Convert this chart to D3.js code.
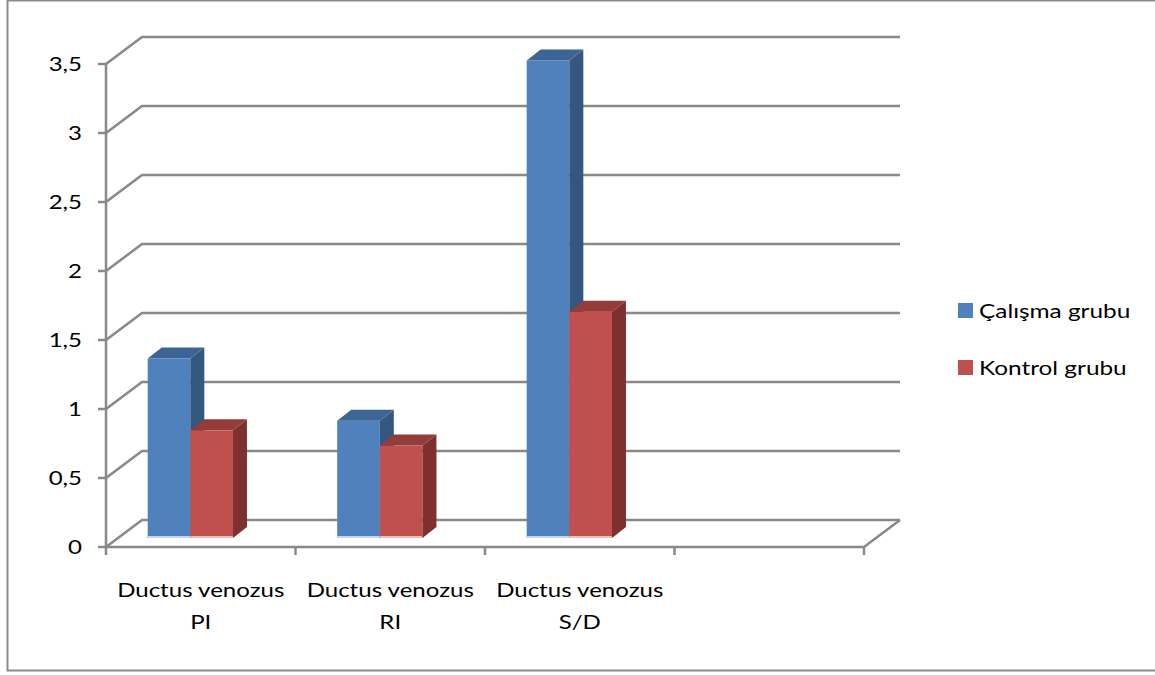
<!DOCTYPE html>
<html>
<head>
<meta charset="utf-8">
<script src="https://cdn.jsdelivr.net/npm/d3@7"></script>
<style>
  html, body { margin: 0; padding: 0; background: #fff; }
  svg { display: block; }
  text { font-family: Lato, "Open Sans", sans-serif; fill: #000; }
</style>
</head>
<body>
<svg id="chart" width="1155" height="675"></svg>
<script>
// Data
const categories = ["Ductus venozus\nPI", "Ductus venozus\nRI", "Ductus venozus\nS/D", ""];
const seriesNames = ["Çalışma grubu", "Kontrol grubu"];
const calismaValues = [1.30, 0.85, 3.46];
const kontrolValues = [0.78, 0.67, 1.64];
const yTicks = [0, 0.5, 1, 1.5, 2, 2.5, 3, 3.5];

const seriesValues = [calismaValues, kontrolValues];
const colors = [
  { front: "#4F81BD", side: "#34577F", top: "#3C6596", base: "#C6D6EB" },
  { front: "#C0504D", side: "#7E302E", top: "#943C3A", base: "#E9BFBE" }
];

const svg = d3.select("#chart");

// Front plane of the 3D box, and the oblique offset toward the back wall
const y = d3.scaleLinear().domain([0, 3.5]).range([547, 64]);
const x = d3.scaleBand().domain(d3.range(categories.length)).range([106, 864]).padding(0);
const DEPTH = { dx: 36, dy: -27 };     // floor / wall depth
const BAR_SHIFT = { dx: 0, dy: -9 };    // bars sit a little behind the front edge
const BAR_DEPTH = { dx: 14, dy: -11 };  // thickness of each bar
const inner = d3.scaleBand().domain(d3.range(seriesNames.length))
  .range([0.22 * x.step(), 0.67 * x.step()]).padding(0);

const gridColor = "#898989";
const x0 = x.range()[0], x1 = x.range()[1];

// Wide-set label text: horizontally stretched glyphs
const TEXT_SX = 1.3;
function wideText(parent, tx, ty, anchor, size, str, sx = TEXT_SX) {
  return parent.append("g")
    .attr("transform", `translate(${tx},${ty}) scale(${sx},1)`)
    .append("text")
    .attr("text-anchor", anchor)
    .attr("font-size", size)
    .text(str);
}

// Outer frame
svg.append("rect")
  .attr("x", 7.5).attr("y", 0.5).attr("width", 1152).attr("height", 670)
  .attr("fill", "none").attr("stroke", "#8c8c8c").attr("stroke-width", 2);

const grid = svg.append("g").attr("stroke", gridColor).attr("stroke-width", 2.5).attr("fill", "none");

// Back wall gridlines plus the diagonal on the side wall
yTicks.forEach(v => {
  const yy = y(v);
  grid.append("path")
    .attr("d", `M${x0},${yy} L${x0 + DEPTH.dx},${yy + DEPTH.dy} L${x1 + DEPTH.dx},${yy + DEPTH.dy}`)
    .attr("stroke-linejoin", "miter");
});

// Floor front and right edges
grid.append("path")
  .attr("d", `M${x0},${y(0)} L${x1},${y(0)} L${x1 + DEPTH.dx},${y(0) + DEPTH.dy}`);

// Value axis
const axisG = svg.append("g");
axisG.append("line")
  .attr("x1", x0).attr("x2", x0).attr("y1", y(3.5)).attr("y2", y(0) + 8)
  .attr("stroke", gridColor).attr("stroke-width", 2.5);
yTicks.forEach(v => {
  axisG.append("line")
    .attr("x1", x0 - 8).attr("x2", x0).attr("y1", y(v)).attr("y2", y(v))
    .attr("stroke", gridColor).attr("stroke-width", 2.5);
  wideText(axisG, 82, y(v) + 7, "end", 18.5, String(v).replace(".", ","));
});

// Category axis ticks and labels
categories.forEach((c, i) => {
  const xe = x(i) + x.bandwidth();
  axisG.append("line")
    .attr("x1", xe).attr("x2", xe).attr("y1", y(0)).attr("y2", y(0) + 8)
    .attr("stroke", gridColor).attr("stroke-width", 2.5);
  c.split("\n").forEach((ln, k) => {
    if (ln) wideText(axisG, x(i) + x.bandwidth() / 2, 597 + k * 32, "middle", 18.5, ln);
  });
});

// 3D columns
const bars = svg.append("g");
categories.forEach((c, i) => {
  seriesValues.forEach((vals, s) => {
    const v = vals[i];
    if (v === undefined) return;
    const col = colors[s];
    const left = x(i) + inner(s) + BAR_SHIFT.dx;
    const right = left + inner.bandwidth();
    const top = y(v) + BAR_SHIFT.dy;
    const bottom = y(0) + BAR_SHIFT.dy;
    const g = bars.append("g");
    // front face
    g.append("rect")
      .attr("x", left).attr("y", top)
      .attr("width", right - left).attr("height", bottom - top)
      .attr("fill", col.front);
    // light strip at the foot of the column
    g.append("rect")
      .attr("x", left).attr("y", bottom - 2)
      .attr("width", right - left).attr("height", 2)
      .attr("fill", col.base);
    // side face
    g.append("path")
      .attr("d", `M${right},${top} L${right + BAR_DEPTH.dx},${top + BAR_DEPTH.dy} L${right + BAR_DEPTH.dx},${bottom + BAR_DEPTH.dy} L${right},${bottom} Z`)
      .attr("fill", col.side);
    // top face
    g.append("path")
      .attr("d", `M${left},${top} L${left + BAR_DEPTH.dx},${top + BAR_DEPTH.dy} L${right + BAR_DEPTH.dx},${top + BAR_DEPTH.dy} L${right},${top} Z`)
      .attr("fill", col.top);
  });
});

// Legend
const legend = svg.append("g");
seriesNames.forEach((name, s) => {
  const ly = 303 + s * 57;
  legend.append("rect")
    .attr("x", 958).attr("y", ly).attr("width", 15).attr("height", 15)
    .attr("fill", colors[s].front);
  wideText(legend, 979, ly + 15, "start", 19.5, name, 1.25);
});
</script>
</body>
</html>
